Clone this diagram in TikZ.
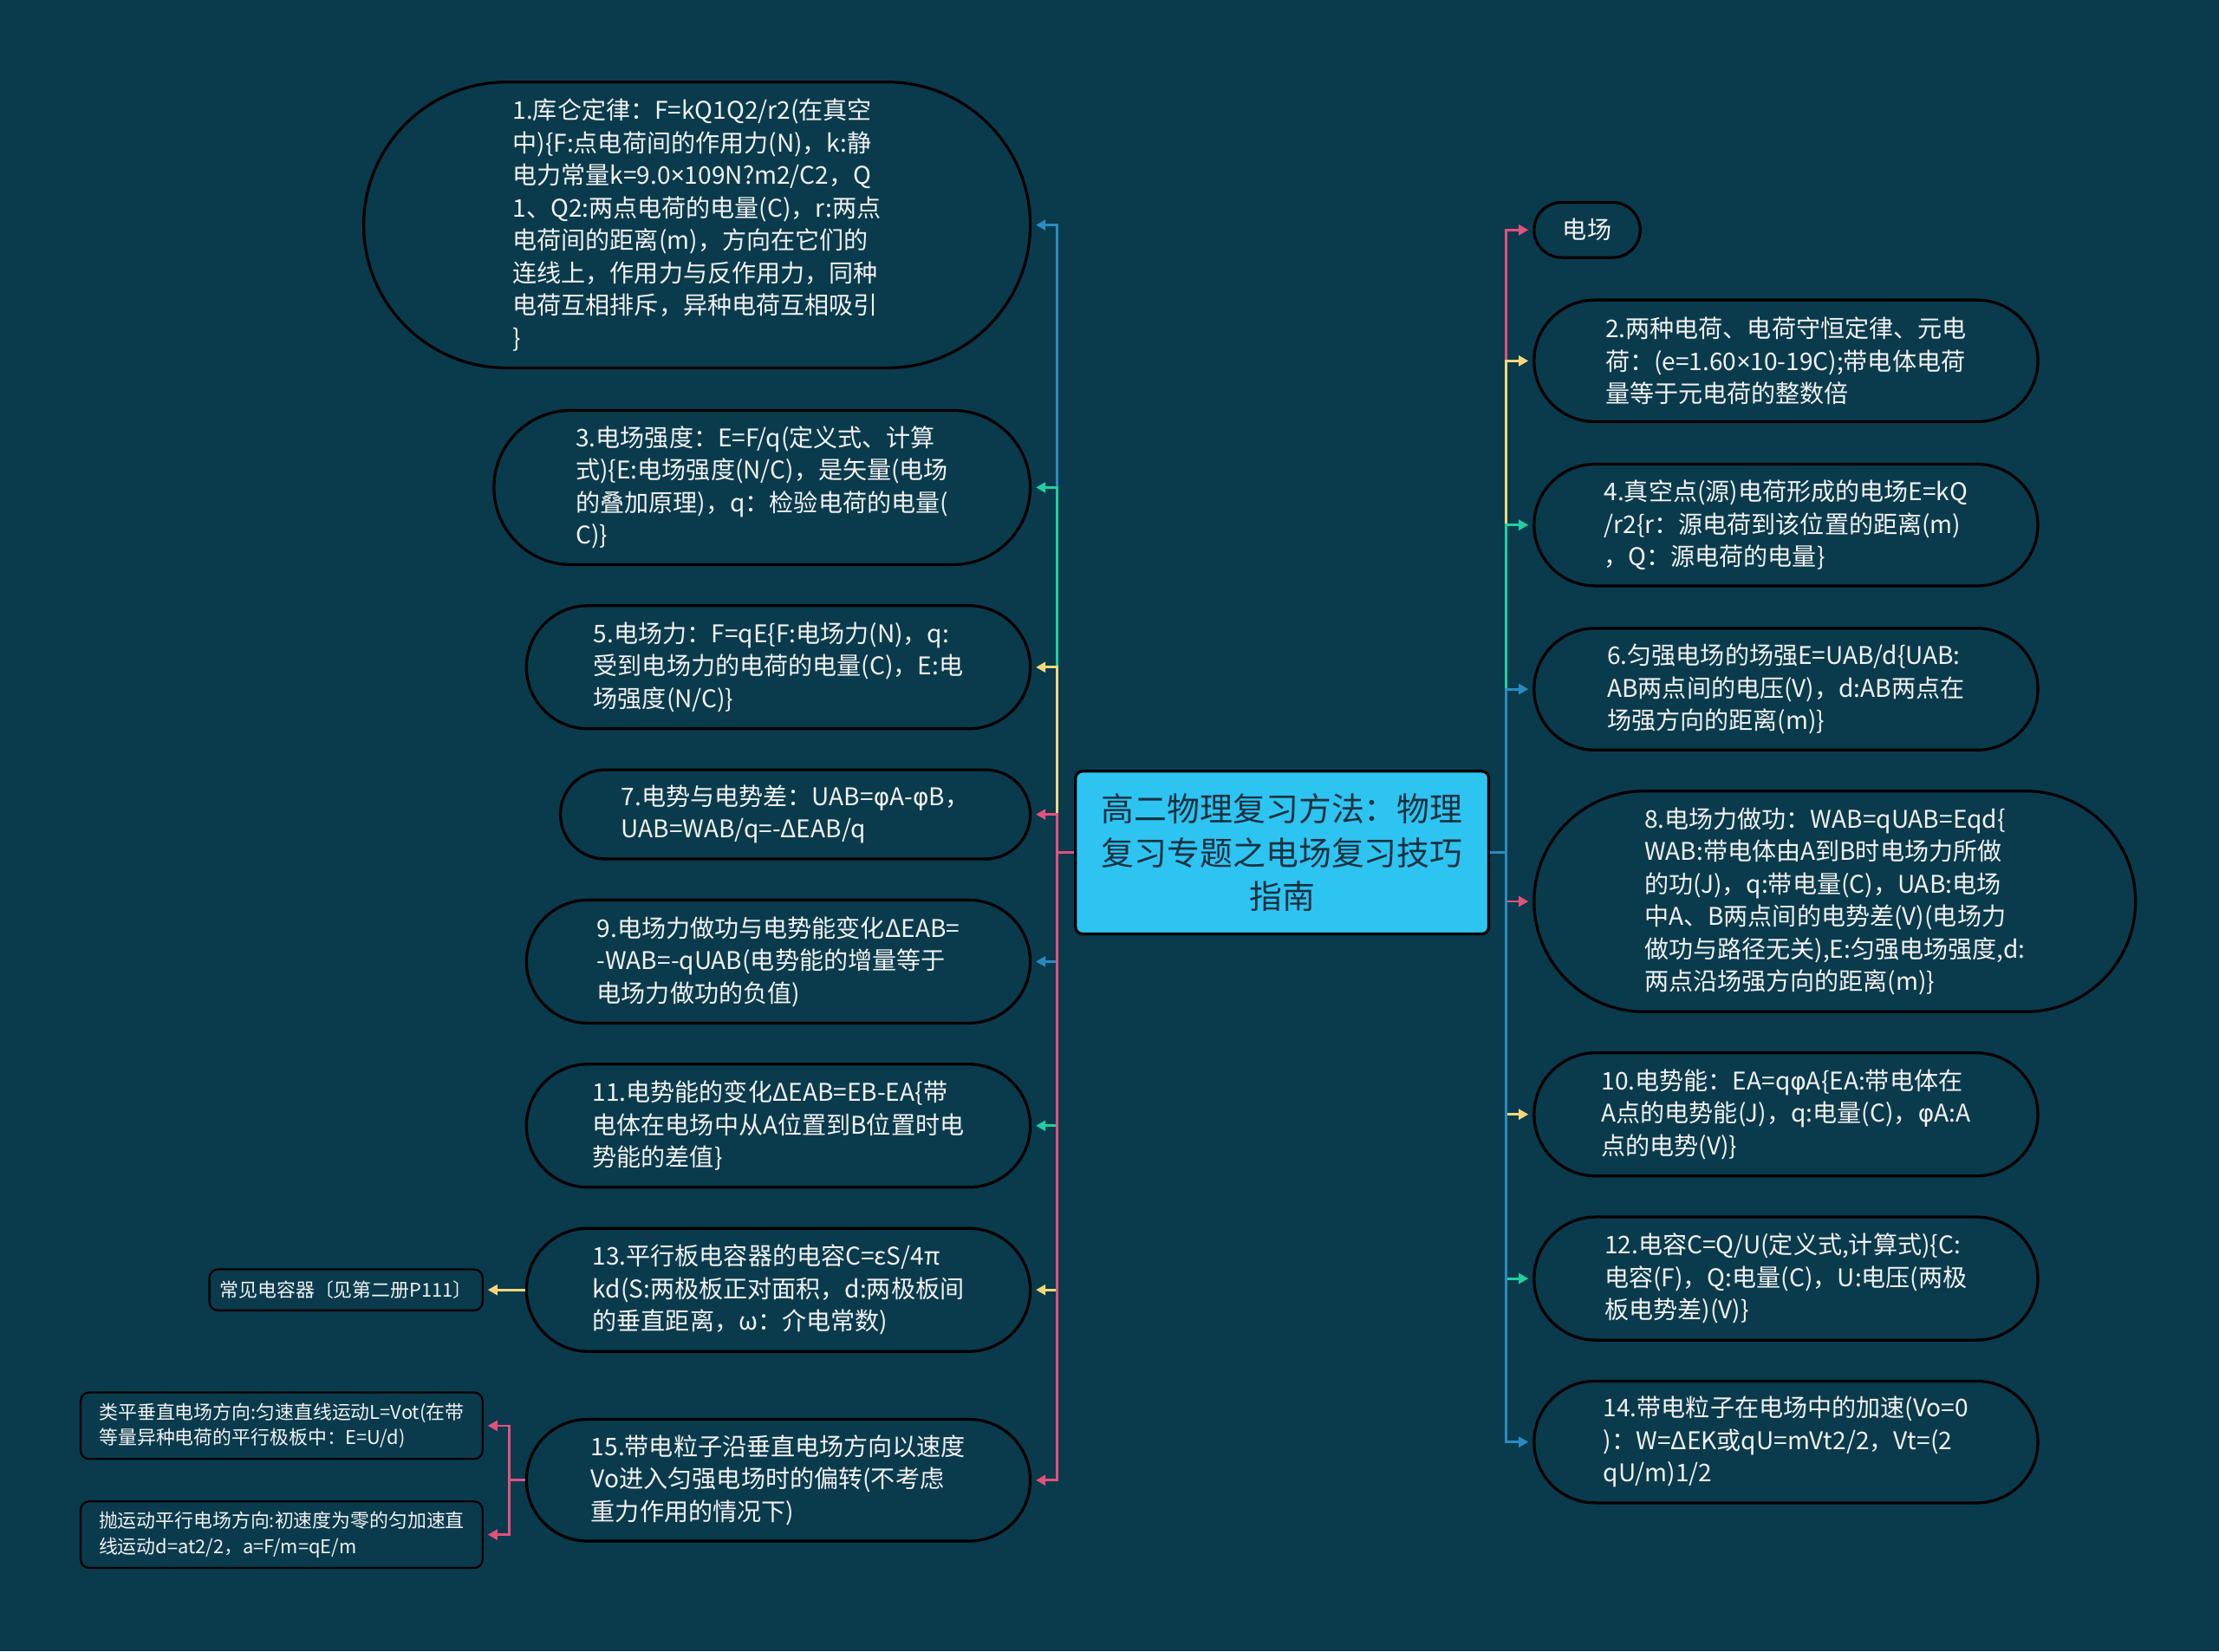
\documentclass[tikz,border=0pt]{standalone}
\usepackage{fontspec}
\setmainfont{Noto Sans CJK SC}
\newfontfamily\grk{Noto Sans}
\newfontfamily\djv{DejaVu Sans}
\newcommand{\phiv}{{\djv\fontsize{8.6}{11.5}\selectfont φ}}
\newcommand{\timesv}{{\grk ×}}
\usetikzlibrary{arrows.meta}
\definecolor{bgc}{HTML}{0A3B4D}
\definecolor{cpink}{HTML}{E5507C}
\definecolor{cyel}{HTML}{F5D77A}
\definecolor{cgreen}{HTML}{22CFA0}
\definecolor{cblue}{HTML}{2A8BC2}
\definecolor{cfill}{HTML}{2EC4F2}
\definecolor{ctext}{HTML}{F2F2F2}
\definecolor{cdark}{HTML}{17313F}
\begin{document}
\begin{tikzpicture}[x=0.5pt,y=-0.5pt,
  leaf/.style={draw=black, line width=1pt, text=ctext, align=left, inner sep=0pt,
    font=\fontsize{8.6}{11.5}\selectfont},
  small/.style={draw=black, line width=0.7pt, text=ctext, align=left, inner sep=0pt,
    rounded corners=3pt, font=\fontsize{6.7}{9}\selectfont},
  link/.style={line width=0.85pt, -{Triangle[length=3.4pt,width=3.6pt]}, shorten >=1.5pt},
  stub/.style={line width=0.85pt}]
\fill[bgc] (0,0) rectangle (1568,1167);
\useasboundingbox (0,0) rectangle (1568,1167);

% center
\node[draw=black, line width=1pt, fill=cfill, rounded corners=2.5pt, minimum width=146pt,
  minimum height=57.5pt, align=center, text=cdark, inner sep=0pt,
  font=\fontsize{11.6}{15.5}\selectfont] (c) at (906,602.5)
  {高二物理复习方法：物理\\复习专题之电场复习技巧\\指南};

% left nodes
\node[leaf, minimum width=235.5pt, minimum height=101pt, rounded corners=50.5pt] (n1) at (492.5,159)
{1.库仑定律：F=kQ1Q2/r2(在真空\\中)\{F:点电荷间的作用力(N)，k:静\\电力常量k=9.0\timesv 109N?m2/C2，Q\\1、Q2:两点电荷的电量(C)，r:两点\\电荷间的距离(m)，方向在它们的\\连线上，作用力与反作用力，同种\\电荷互相排斥，异种电荷互相吸引\\\}};
\node[leaf, minimum width=189.5pt, minimum height=54.5pt, rounded corners=27.25pt] (n3) at (538.5,344.5)
{3.电场强度：E=F/q(定义式、计算\\式)\{E:电场强度(N/C)，是矢量(电场\\的叠加原理)，q：检验电荷的电量(\\C)\}};
\node[leaf, minimum width=178pt, minimum height=43.5pt, rounded corners=21.75pt] (n5) at (550,471.5)
{5.电场力：F=qE\{F:电场力(N)，q:\\受到电场力的电荷的电量(C)，E:电\\场强度(N/C)\}};
\node[leaf, minimum width=166pt, minimum height=31.5pt, rounded corners=15.75pt] (n7) at (562,575.5)
{7.电势与电势差：UAB=\phiv A-\phiv B，\\UAB=WAB/q=-ΔEAB/q};
\node[leaf, minimum width=178pt, minimum height=43.5pt, rounded corners=21.75pt] (n9) at (550,679.5)
{9.电场力做功与电势能变化ΔEAB=\\-WAB=-qUAB(电势能的增量等于\\电场力做功的负值)};
\node[leaf, minimum width=178pt, minimum height=43.5pt, rounded corners=21.75pt] (n11) at (550,795.5)
{11.电势能的变化ΔEAB=EB-EA\{带\\电体在电场中从A位置到B位置时电\\势能的差值\}};
\node[leaf, minimum width=178pt, minimum height=43.5pt, rounded corners=21.75pt] (n13) at (550,911.5)
{13.平行板电容器的电容C=εS/4π\\kd(S:两极板正对面积，d:两极板间\\的垂直距离，ω：介电常数)};
\node[leaf, minimum width=178pt, minimum height=43pt, rounded corners=21.5pt] (n15) at (550,1046)
{15.带电粒子沿垂直电场方向以速度\\Vo进入匀强电场时的偏转(不考虑\\重力作用的情况下)};

% small left nodes
\node[small, minimum width=96.5pt, minimum height=14.5pt] (s13) at (244.5,911.5)
{常见电容器〔见第二册P111〕};
\node[small, minimum width=142pt, minimum height=23.5pt] (s15a) at (199,1007.5)
{类平垂直电场方向:匀速直线运动L=Vot(在带\\等量异种电荷的平行极板中：E=U/d)};
\node[small, minimum width=142pt, minimum height=23.5pt] (s15b) at (199,1084.5)
{抛运动平行电场方向:初速度为零的匀加速直\\线运动d=at2/2，a=F/m=qE/m};

% right nodes
\node[leaf, minimum width=37.5pt, minimum height=19.5pt, rounded corners=9.75pt] (e) at (1121.5,162.5)
{电场};
\node[leaf, minimum width=178pt, minimum height=43pt, rounded corners=21.5pt] (n2) at (1262,255)
{2.两种电荷、电荷守恒定律、元电\\荷：(e=1.60\timesv 10-19C);带电体电荷\\量等于元电荷的整数倍};
\node[leaf, minimum width=178pt, minimum height=43pt, rounded corners=21.5pt] (n4) at (1262,371)
{4.真空点(源)电荷形成的电场E=kQ\\/r2\{r：源电荷到该位置的距离(m)\\，Q：源电荷的电量\}};
\node[leaf, minimum width=178pt, minimum height=43pt, rounded corners=21.5pt] (n6) at (1262,487)
{6.匀强电场的场强E=UAB/d\{UAB:\\AB两点间的电压(V)，d:AB两点在\\场强方向的距离(m)\}};
\node[leaf, minimum width=212.5pt, minimum height=78pt, rounded corners=39pt] (n8) at (1296.5,637)
{8.电场力做功：WAB=qUAB=Eqd\{\\WAB:带电体由A到B时电场力所做\\的功(J)，q:带电量(C)，UAB:电场\\中A、B两点间的电势差(V)(电场力\\做功与路径无关),E:匀强电场强度,d:\\两点沿场强方向的距离(m)\}};
\node[leaf, minimum width=178pt, minimum height=43.5pt, rounded corners=21.75pt] (n10) at (1262,787.5)
{10.电势能：EA=q\phiv A\{EA:带电体在\\A点的电势能(J)，q:电量(C)，\phiv A:A\\点的电势(V)\}};
\node[leaf, minimum width=178pt, minimum height=43.5pt, rounded corners=21.75pt] (n12) at (1262,903.5)
{12.电容C=Q/U(定义式,计算式)\{C:\\电容(F)，Q:电量(C)，U:电压(两极\\板电势差)(V)\}};
\node[leaf, minimum width=178pt, minimum height=43pt, rounded corners=21.5pt] (n14) at (1262,1019)
{14.带电粒子在电场中的加速(Vo=0\\)：W=ΔEK或qU=mVt2/2，Vt=(2\\qU/m)1/2};

% left connectors
\draw[link, cblue]  (c.west) -- ++(-12,0) |- (n1.east);
\draw[link, cgreen] (c.west) -- ++(-12,0) |- (n3.east);
\draw[link, cyel]   (c.west) -- ++(-12,0) |- (n5.east);
\draw[link, cpink]  (c.west) -- ++(-12,0) |- (n7.east);
\draw[link, cblue]  (c.west) -- ++(-12,0) |- (n9.east);
\draw[link, cgreen] (c.west) -- ++(-12,0) |- (n11.east);
\draw[link, cyel]   (c.west) -- ++(-12,0) |- (n13.east);
\draw[link, cpink]  (c.west) -- ++(-12,0) |- (n15.east);

% right connectors
\draw[link, cpink]  (c.east) -- ++(11,0) |- (e.west);
\draw[link, cyel]   (c.east) -- ++(11,0) |- (n2.west);
\draw[link, cgreen] (c.east) -- ++(11,0) |- (n4.west);
\draw[link, cblue]  (c.east) -- ++(11,0) |- (n6.west);
\draw[link, cpink]  (c.east) -- ++(11,0) |- (n8.west);
\draw[link, cyel]   (c.east) -- ++(11,0) |- (n10.west);
\draw[link, cgreen] (c.east) -- ++(11,0) |- (n12.west);
\draw[link, cblue]  (c.east) -- ++(11,0) |- (n14.west);

% sub connectors
\draw[link, cyel]  (n13.west) -- (s13.east);
\draw[link, cpink] (n15.west) -- ++(-11,0) |- (s15a.east);
\draw[link, cpink] (n15.west) -- ++(-11,0) |- (s15b.east);
\end{tikzpicture}
\end{document}
